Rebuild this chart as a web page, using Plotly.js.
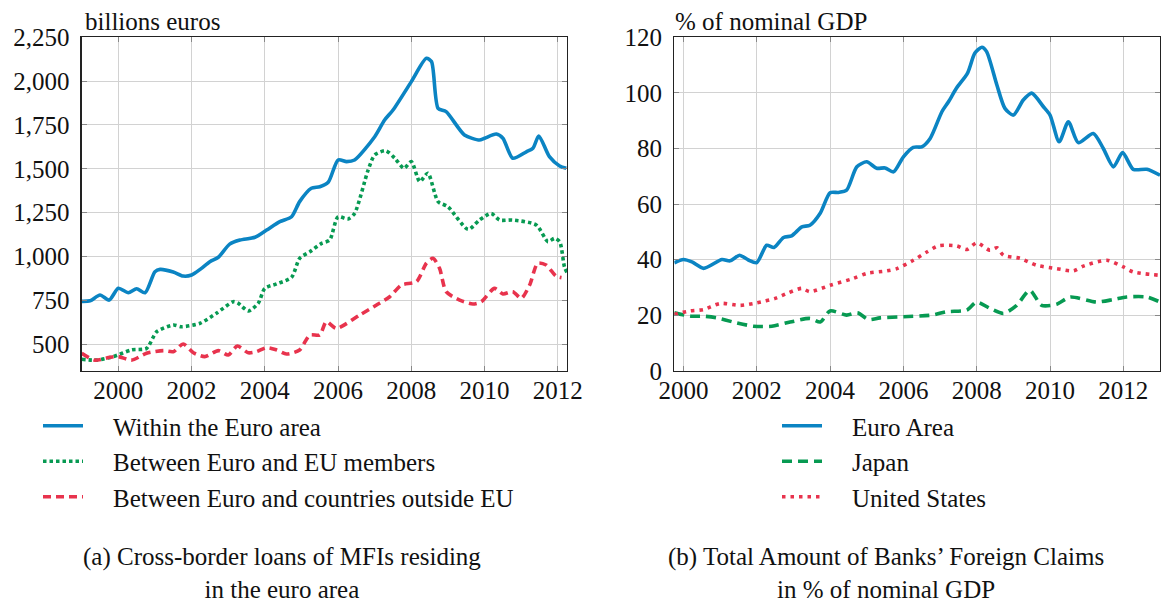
<!DOCTYPE html>
<html>
<head>
<meta charset="utf-8">
<script src="https://cdn.plot.ly/plotly-3.0.1.min.js"></script>
<style>html,body{margin:0;padding:0;background:#fff;}#chart{width:1171px;height:601px;}</style>
</head>
<body>
<div id="chart"></div>
<script>
// ---- Panel (a): Cross-border loans of MFIs (billions euros)
const withinX = [1999.0,1999.23,1999.5,1999.75,2000.0,2000.27,2000.5,2000.73,2001.0,2001.14,2001.5,2001.77,2002.0,2002.25,2002.5,2002.73,2003.04,2003.32,2003.73,2004.05,2004.41,2004.73,2004.95,2005.27,2005.5,2005.73,2006.0,2006.23,2006.45,2007.0,2007.27,2007.5,2008.0,2008.41,2008.55,2008.73,2008.95,2009.45,2009.86,2010.0,2010.32,2010.5,2010.77,2011.14,2011.32,2011.48,2011.77,2012.05,2012.23];
const withinY = [745,748,781,752,819,794,817,794,914,927,912,889,895,930,971,996,1071,1094,1110,1151,1199,1227,1313,1389,1398,1423,1550,1541,1550,1683,1778,1835,1997,2130,2111,1845,1826,1693,1664,1674,1698,1674,1560,1597,1617,1687,1569,1516,1503];

const euX = [1999.0,1999.4,1999.86,2000.36,2000.77,2001.05,2001.5,2001.73,2002.23,2002.68,2003.14,2003.27,2003.55,2003.82,2004.0,2004.32,2004.73,2004.95,2005.23,2005.55,2005.77,2006.0,2006.27,2006.45,2006.82,2007.0,2007.3,2007.55,2007.8,2008.0,2008.23,2008.45,2008.73,2009.0,2009.55,2009.86,2010.18,2010.41,2010.77,2011.41,2011.73,2011.91,2012.05,2012.18,2012.25];
const euY = [415,410,430,468,477,572,610,600,620,677,743,735,690,734,819,844,882,990,1028,1075,1094,1227,1214,1246,1493,1579,1603,1560,1503,1541,1427,1475,1313,1284,1155,1208,1246,1208,1208,1180,1085,1104,1085,942,910];

const outX = [1999.0,1999.36,1999.77,2000.0,2000.36,2000.77,2001.23,2001.5,2001.77,2002.05,2002.36,2002.73,2003.0,2003.25,2003.55,2003.77,2004.05,2004.32,2004.59,2004.95,2005.23,2005.5,2005.68,2005.95,2006.59,2007.05,2007.41,2007.73,2008.14,2008.41,2008.59,2008.77,2008.95,2009.32,2009.68,2009.91,2010.27,2010.5,2010.77,2011.0,2011.23,2011.45,2011.68,2011.95,2012.1];
const outY = [449,410,426,430,410,449,464,458,502,452,430,464,439,490,452,458,481,468,445,468,553,553,629,591,667,724,771,838,857,962,990,933,800,752,730,743,819,787,800,762,838,962,952,889,880];

// ---- Panel (b): Banks' foreign claims (% of nominal GDP)
const euroX = [1999.75,2000.0,2000.23,2000.55,2001.05,2001.27,2001.53,2001.77,2002.0,2002.27,2002.47,2002.73,2002.95,2003.23,2003.45,2003.73,2004.0,2004.23,2004.45,2004.73,2005.0,2005.27,2005.5,2005.73,2006.0,2006.27,2006.5,2006.73,2007.05,2007.23,2007.45,2007.75,2007.95,2008.14,2008.27,2008.55,2008.77,2009.0,2009.27,2009.5,2009.82,2010.0,2010.25,2010.5,2010.77,2011.18,2011.45,2011.73,2011.98,2012.27,2012.64,2013.0];
const euroY = [38.9,40.1,39.2,36.9,40.1,39.6,41.6,39.9,39.0,45.2,44.4,48.0,48.6,51.8,52.4,56.7,64.1,64.2,65.0,73.4,75.2,72.9,73.0,71.6,77.0,80.4,80.6,83.6,93.2,96.8,101.7,107.1,114.3,116.4,114.8,102.8,94.4,92.0,97.4,99.9,95.0,92.0,82.4,89.6,82.1,85.4,80.1,73.4,78.5,72.5,72.5,70.4];

const japanX = [1999.75,2000.23,2000.55,2000.91,2001.36,2001.91,2002.41,2002.91,2003.45,2003.73,2004.0,2004.45,2004.75,2005.05,2005.36,2006.0,2006.77,2007.18,2007.73,2008.0,2008.36,2008.73,2009.09,2009.45,2009.77,2010.18,2010.55,2011.27,2011.73,2012.09,2012.64,2013.0];
const japanY = [20.9,19.7,19.7,19.1,17.6,16.1,16.1,17.6,18.9,17.6,21.6,20.1,20.9,18.5,19.1,19.5,20.1,21.3,21.9,24.8,22.5,20.7,23.6,29.0,23.6,24.0,26.6,24.8,25.7,26.6,26.6,24.8];

const usX = [1999.75,2000.18,2000.55,2001.0,2001.55,2002.0,2002.5,2002.86,2003.23,2003.45,2004.0,2004.64,2005.0,2005.55,2005.82,2006.27,2006.64,2006.95,2007.45,2007.73,2008.0,2008.36,2008.55,2008.73,2009.18,2009.64,2010.18,2010.64,2010.91,2011.55,2012.0,2012.27,2013.0];
const usY = [20.4,21.6,22.1,24.3,23.6,24.5,26.1,28.1,29.7,28.5,30.8,33.3,35.1,36.0,36.8,39.8,42.8,45.0,45.0,43.7,46.1,43.4,44.3,41.6,40.5,38.0,36.8,36.0,37.7,39.8,37.4,35.6,34.4];

const namesA = ["Within the Euro area","Between Euro and EU members","Between Euro and countries outside EU"];
const namesB = ["Euro Area","Japan","United States"];
const xTicks = [2000,2002,2004,2006,2008,2010,2012];
const yTicksA = [500,750,1000,1250,1500,1750,2000,2250];
const yTicksB = [0,20,40,60,80,100,120];

const BLUE = "#0b84c3", GREEN = "#079a52", RED = "#e8334d";
const FONT = "Liberation Serif, Times New Roman, serif";
const FS = 25;
const PAD = "\u00a0\u00a0\u00a0\u00a0"; // gap between legend sample and label

function tr(x, y, name, color, dash, xa, ya, leg) {
  return {x: x, y: y, name: PAD + name, type: "scatter", mode: "lines",
    line: {color: color, width: 3.6, dash: dash, shape: "spline", smoothing: 0.7},
    xaxis: xa, yaxis: ya, legend: leg, hoverinfo: "skip"};
}

const data = [
  tr(withinX, withinY, namesA[0], BLUE, "solid", "x", "y", "legend"),
  tr(euX, euY, namesA[1], GREEN, "3.5px,3px", "x", "y", "legend"),
  tr(outX, outY, namesA[2], RED, "8px,5px", "x", "y", "legend"),
  tr(euroX, euroY, namesB[0], BLUE, "solid", "x2", "y2", "legend2"),
  tr(japanX, japanY, namesB[1], GREEN, "10px,6px", "x2", "y2", "legend2"),
  tr(usX, usY, namesB[2], RED, "3.5px,5px", "x2", "y2", "legend2")
];

const W = 1171, H = 601;
const px = v => v / W, py = v => 1 - v / H;

const axisCommon = {
  showline: true, linecolor: "#222", linewidth: 1.3, mirror: "ticks",
  ticks: "inside", ticklen: 5, tickcolor: "#888", tickwidth: 1,
  showgrid: true, gridcolor: "#d2d2d2", gridwidth: 1, zeroline: false,
  tickfont: {family: FONT, size: FS, color: "#111"}
};

const layout = {
  width: W, height: H,
  margin: {l: 0, r: 0, t: 0, b: 0},
  paper_bgcolor: "#fff", plot_bgcolor: "#fff",
  font: {family: FONT, size: FS, color: "#111"},
  showlegend: true,
  xaxis: Object.assign({}, axisCommon, {domain: [px(81.7), px(567)], range: [1999.0, 2012.25], tickvals: xTicks, anchor: "y", ticklabelstandoff: -3}),
  yaxis: Object.assign({}, axisCommon, {domain: [py(371), py(37.2)], range: [348, 2250], tickvals: yTicksA, tickformat: ",", anchor: "x", ticklabelstandoff: 6}),
  xaxis2: Object.assign({}, axisCommon, {domain: [px(674.3), px(1160)], range: [1999.75, 2013.0], tickvals: xTicks, anchor: "y2", ticklabelstandoff: -3}),
  yaxis2: Object.assign({}, axisCommon, {domain: [py(371), py(37.2)], range: [0, 120], tickvals: yTicksB, anchor: "x2", ticklabelstandoff: 6}),
  legend: {x: px(38), y: py(403), xanchor: "left", yanchor: "top", bgcolor: "rgba(0,0,0,0)",
    font: {family: FONT, size: FS, color: "#111"}, itemwidth: 40, tracegroupgap: 0},
  legend2: {x: px(777), y: py(403), xanchor: "left", yanchor: "top", bgcolor: "rgba(0,0,0,0)",
    font: {family: FONT, size: FS, color: "#111"}, itemwidth: 40, tracegroupgap: 0},
  annotations: [
    {text: "billions euros", xref: "paper", yref: "paper", x: px(83), y: py(37), xanchor: "left", yanchor: "bottom", showarrow: false, font: {family: FONT, size: FS, color: "#111"}},
    {text: "% of nominal GDP", xref: "paper", yref: "paper", x: px(673), y: py(37), xanchor: "left", yanchor: "bottom", showarrow: false, font: {family: FONT, size: FS, color: "#111"}},
    {text: "(a) Cross-border loans of MFIs residing<br>in the euro area", xref: "paper", yref: "paper", x: px(282), y: py(573), xanchor: "center", yanchor: "middle", showarrow: false, font: {family: FONT, size: FS, color: "#111"}},
    {text: "(b) Total Amount of Banks’ Foreign Claims<br>in % of nominal GDP", xref: "paper", yref: "paper", x: px(886), y: py(573), xanchor: "center", yanchor: "middle", showarrow: false, font: {family: FONT, size: FS, color: "#111"}}
  ]
};

Plotly.newPlot("chart", data, layout, {staticPlot: true, displayModeBar: false});
</script>
</body>
</html>
